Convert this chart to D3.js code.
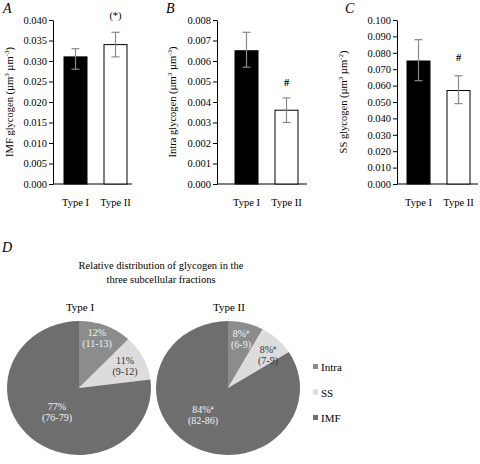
<!DOCTYPE html>
<html><head><meta charset="utf-8">
<script src="https://cdn.jsdelivr.net/npm/d3@7"></script>
<style>body{margin:0;background:#fff}svg{display:block}text{font-family:"Liberation Serif","Times New Roman",serif;}</style>
</head><body>
<svg id="c" width="480" height="464"></svg>
<script>
// ---- data ----
const categories = ["Type I", "Type II"];
const imfMean = [0.031, 0.034];
const imfLow = [0.028, 0.031];
const imfHigh = [0.033, 0.037];
const intraMean = [0.0065, 0.0036];
const intraLow = [0.0057, 0.0030];
const intraHigh = [0.0074, 0.0042];
const ssMean = [0.075, 0.057];
const ssLow = [0.063, 0.049];
const ssHigh = [0.088, 0.066];
const imfTicks = [0, 0.005, 0.010, 0.015, 0.020, 0.025, 0.030, 0.035, 0.040];
const intraTicks = [0, 0.001, 0.002, 0.003, 0.004, 0.005, 0.006, 0.007, 0.008];
const ssTicks = [0, 0.010, 0.020, 0.030, 0.040, 0.050, 0.060, 0.070, 0.080, 0.090, 0.100];
const fractions = ["Intra", "SS", "IMF"];
const pieTypeI = [12, 11, 77];
const pieTypeII = [8, 8, 84];
const rangeTypeI = ["(11-13)", "(9-12)", "(76-79)"];
const rangeTypeII = ["(6-9)", "(7-9)", "(82-86)"];
const sigTypeII = ["#", "#", "#"];

const svg = d3.select("#c");
const fill = ["#000", "#fff"];

function barPanel(o) {
  const g = svg.append("g");
  const y = d3.scaleLinear().domain([0, o.max]).range([184, 20]);
  const x = d3.scaleBand().domain(categories)
    .range([o.ax, o.ax + 40 * (2 - 0.425 + 2 * o.po)])
    .paddingInner(0.425).paddingOuter(o.po);
  const axis = d3.axisLeft(y).tickValues(o.ticks).tickFormat(d3.format(".3f")).tickSize(4).tickSizeOuter(0);
  const ag = g.append("g").attr("transform", `translate(${o.ax},0)`).call(axis);
  ag.select(".domain").attr("stroke", "#000");
  ag.selectAll(".tick line").attr("stroke", "#000");
  ag.selectAll("text").attr("font-family", "Liberation Serif").attr("font-size", 10.5).attr("fill", "#000").attr("x", -6);
  g.append("line").attr("x1", o.ax).attr("x2", o.xEnd).attr("y1", 184).attr("y2", 184).attr("stroke", "#000");
  g.selectAll("rect.bar").data(o.mean).join("rect")
    .attr("x", (d, i) => x(categories[i])).attr("width", x.bandwidth())
    .attr("y", d => y(d)).attr("height", d => 184 - y(d))
    .attr("fill", (d, i) => fill[i]).attr("stroke", "#000").attr("stroke-width", 1);
  categories.forEach((c, i) => {
    const cx = x(c) + x.bandwidth() / 2;
    const e = g.append("g").attr("stroke", "#8a8a8a").attr("stroke-width", 1.2);
    e.append("line").attr("x1", cx).attr("x2", cx).attr("y1", y(o.low[i])).attr("y2", y(o.high[i]));
    e.append("line").attr("x1", cx - 4).attr("x2", cx + 4).attr("y1", y(o.low[i])).attr("y2", y(o.low[i]));
    e.append("line").attr("x1", cx - 4).attr("x2", cx + 4).attr("y1", y(o.high[i])).attr("y2", y(o.high[i]));
    g.append("text").attr("x", cx).attr("y", 206).attr("text-anchor", "middle").attr("font-size", 10.5).text(c);
  });
  const c2 = x(categories[1]) + x.bandwidth() / 2;
  g.append("text").attr("x", c2).attr("y", o.sigY).attr("text-anchor", "middle").attr("font-size", 10.5).attr("font-weight", o.sig === "#" ? "bold" : "normal").text(o.sig);
  const t = g.append("text").attr("transform", `translate(${o.tx},102) rotate(-90)`).attr("text-anchor", "middle").attr("font-size", 10.5);
  t.append("tspan").text(o.title + " glycogen (µm");
  t.append("tspan").attr("baseline-shift", "super").attr("font-size", 7).text("3");
  t.append("tspan").text(" µm");
  t.append("tspan").attr("baseline-shift", "super").attr("font-size", 7).text(o.unitExp);
  t.append("tspan").text(")");
  svg.append("text").attr("x", o.lx).attr("y", 13).attr("font-family", "Liberation Sans").attr("font-style", "italic").attr("font-size", 14).text(o.letter);
}

barPanel({ax: 53, po: 0.275, max: 0.04, ticks: imfTicks, mean: imfMean, low: imfLow, high: imfHigh, xEnd: 132, sig: "(*)", sigY: 19, title: "IMF", unitExp: "-3", tx: 13, lx: 3, letter: "A"});
barPanel({ax: 217, po: 0.45, max: 0.008, ticks: intraTicks, mean: intraMean, low: intraLow, high: intraHigh, xEnd: 307, sig: "#", sigY: 86, title: "Intra", unitExp: "-3", tx: 176, lx: 166, letter: "B"});
barPanel({ax: 397, po: 0.25, max: 0.1, ticks: ssTicks, mean: ssMean, low: ssLow, high: ssHigh, xEnd: 478, sig: "#", sigY: 61, title: "SS", unitExp: "-2", tx: 347, lx: 345, letter: "C"});

// ---- Panel D ----
svg.append("text").attr("x", 2).attr("y", 252).attr("font-family", "Liberation Sans").attr("font-style", "italic").attr("font-size", 14).text("D");
svg.append("text").attr("x", 161).attr("y", 269).attr("text-anchor", "middle").attr("font-size", 10.5).text("Relative distribution of glycogen in the");
svg.append("text").attr("x", 161).attr("y", 283).attr("text-anchor", "middle").attr("font-size", 10.5).text("three subcellular fractions");

const pieColors = d3.scaleOrdinal().domain(fractions).range(["#8c8c8c", "#dcdcdc", "#6e6e6e"]);
const labelColors = ["#f2f2f2", "#333", "#f2f2f2"];
const pie = d3.pie().sort(null).value(d => d);
const arc = d3.arc().innerRadius(0).outerRadius(72);

function drawPie(cx, cy, title, vals, ranges, sig, labelPos) {
  svg.append("text").attr("x", cx + 1).attr("y", 311).attr("text-anchor", "middle").attr("font-size", 11).text(title);
  const g = svg.append("g").attr("transform", `translate(${cx},${cy}) scale(1,0.93)`);
  g.selectAll("path").data(pie(vals)).join("path").attr("d", arc).attr("fill", (d, i) => pieColors(fractions[i]));
  vals.forEach((v, i) => {
    const [lx, ly] = labelPos[i];
    const t = svg.append("text").attr("x", lx).attr("y", ly).attr("text-anchor", "middle").attr("font-size", 10).attr("fill", labelColors[i]);
    t.append("tspan").text(v + "%");
    if (sig) t.append("tspan").attr("baseline-shift", "super").attr("font-size", 6.5).text(sig[i]);
    svg.append("text").attr("x", lx).attr("y", ly + 11).attr("text-anchor", "middle").attr("font-size", 10).attr("fill", labelColors[i]).text(ranges[i]);
  });
}
drawPie(79, 388, "Type I", pieTypeI, rangeTypeI, null, [[97, 336], [125, 364], [57, 410]]);
drawPie(228, 388, "Type II", pieTypeII, rangeTypeII, sigTypeII, [[241, 337], [268, 353], [203, 413]]);

// legend
const lg = svg.append("g");
fractions.forEach((f, i) => {
  const yy = 367 + i * 25.5;
  lg.append("rect").attr("x", 313).attr("y", yy - 3).attr("width", 5).attr("height", 5).attr("fill", pieColors(f));
  lg.append("text").attr("x", 321).attr("y", yy + 4).attr("font-size", 11).text(f);
});
</script>
</body></html>
